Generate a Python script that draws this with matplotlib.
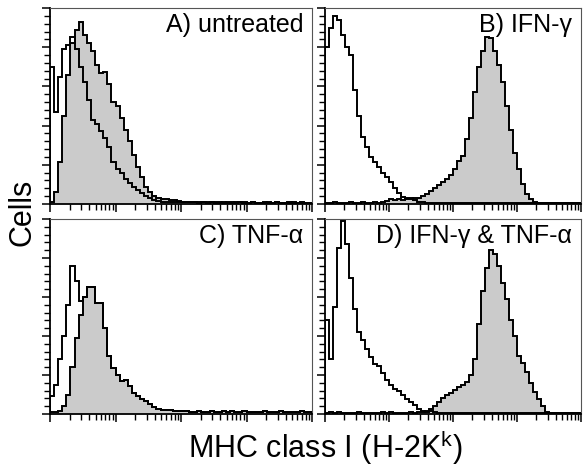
import numpy as np
import matplotlib
matplotlib.use("Agg")
import matplotlib.pyplot as plt
from matplotlib.ticker import FixedLocator, MultipleLocator, NullFormatter

plt.rcParams['font.family'] = ['Liberation Sans', 'DejaVu Sans']
plt.rcParams['mathtext.fontset'] = 'custom'
plt.rcParams['mathtext.rm'] = 'Liberation Sans'

# 64 log-spaced channels over 4 decades, counts as % of panel height
bin_edges = np.logspace(0, 4, 65)

a_open = [70, 47, 65, 79, 81, 85, 79, 70, 62, 53, 43, 41, 37, 33.5, 29, 21.6,
          18, 15.6, 13, 10.5, 8.8, 7.1, 5.4, 4, 2.9, 2, 1.5, 1.2, 1, 1,
          0.8, 1, 0.8, 0.8, 1.2, 0.8, 0.6, 0.8, 0.6, 1, 0.6, 0.6, 0.8, 0.6,
          0.6, 0.8, 1, 0.6, 0.6, 0.8, 0.6, 0.6, 0.6, 0.8, 0.6, 1, 0.6, 0.6,
          0.6, 0.8, 0.6, 0.6, 0.6, 0.6]
a_fill = [1.2, 6, 21.6, 45, 66, 82, 89, 93, 86, 82, 78, 71, 67, 67.5, 61, 52,
          50, 44, 38, 32, 25, 19, 14, 8.8, 6.3, 4.3, 3.2, 2.7, 2.3, 2, 1.8,
          1.5, 1.2, 1, 1, 0.8, 1, 0.8, 0.8, 0.8, 1, 0.8, 0.6, 0.8, 0.8, 0.6,
          1, 0.8, 0.6, 0.8, 0.6, 0.6, 1, 0.6, 0.6, 0.8, 0.6, 0.6, 1, 0.6, 0.6,
          0.8, 0.6, 0.6]

b_open = [80, 90, 96, 94, 86, 80, 76, 58, 45, 34, 29, 24, 21.6, 19, 15.6, 14,
          11.4, 8.3, 5.4, 3.7, 2.9, 2.9, 2, 1.2, 0.8, 0.6, 0.5, 0.5, 0.6, 0.5,
          0.5, 0.5, 0.6, 0.5, 0.5, 0.5, 0.5, 0.6, 0.5, 0.5, 0.5, 0.5, 0.5,
          0.5, 0.5, 0.5, 0.5, 0.5, 0.5, 0.5, 0.5, 0.5, 0.5, 0.5, 0.5, 0.5,
          0.5, 0.5, 0.5, 0.5, 0.5, 0.5, 0.5, 0.5]
b_fill = [0.6, 0.6, 0.8, 0.6, 0.6, 0.6, 0.8, 0.6, 0.6, 1, 0.6, 0.6, 0.8, 0.6,
          1.2, 1.5, 2.5, 2, 2.5, 2, 2.5, 2.8, 3, 3, 4, 5, 6.5, 8, 9.5, 11, 13,
          15, 18, 22, 24.5, 33, 44, 57, 70, 78, 85, 84.5, 78, 71, 62, 50, 38,
          26, 18, 10, 5, 2.5, 1, 0.5, 0.5, 0.5, 0.5, 0.5, 0.5, 0.5, 0.5, 0.5,
          0.5, 0.5]

c_open = [9, 15, 28, 40, 56, 76, 68, 58, 60, 65, 65, 57, 57, 44, 30, 23.5, 20,
          17, 17.5, 14.5, 11, 9, 7.8, 6.5, 5, 3.5, 2.7, 2.3, 2, 1.8, 1.6, 1.5,
          1.5, 1.3, 1.2, 1.2, 1.5, 1.2, 1, 1.5, 1.2, 1.2, 1.5, 1.2, 1.5, 1.2,
          1.2, 1.5, 1.2, 1.2, 1, 1.2, 1.5, 1.2, 1, 1.2, 1.5, 1.2, 1, 1.2, 1.2,
          1.5, 1.2, 1.2]
c_fill = [1, 1, 1.5, 4, 9.7, 24, 39, 51, 60, 65, 65, 57, 57, 44, 30, 23.5, 20,
          17, 17.5, 14.5, 11, 9, 7.8, 6.5, 5, 3.5, 2.7, 2.3, 2, 1.8, 1.6, 1.5,
          1.5, 1.3, 1.2, 1.2, 1.5, 1.2, 1, 1.5, 1.2, 1.2, 1.5, 1.2, 1.5, 1.2,
          1.2, 1.5, 1.2, 1.2, 1, 1.2, 1.5, 1.2, 1, 1.2, 1.5, 1.2, 1, 1.2, 1.2,
          1.5, 1.2, 1.2]

d_open = [48, 28, 55, 85, 99, 87, 70, 54, 42, 38, 33.5, 29, 25.5, 24.5, 21,
          17.5, 15, 13, 12, 9.5, 7.5, 6, 4.8, 2.5, 1.5, 1.2, 1.5, 1, 0.5, 0.6,
          0.5, 0.5, 0.5, 0.6, 0.5, 0.5, 0.5, 0.5, 0.5, 0.5, 0.5, 0.5, 0.5,
          0.5, 0.5, 0.5, 0.5, 0.5, 0.5, 0.5, 0.5, 0.5, 0.5, 0.5, 0.5, 0.5,
          0.5, 0.5, 0.5, 0.5, 0.5, 0.5, 0.5, 0.5]
d_fill = [0.6, 0.8, 0.6, 1, 0.6, 0.6, 0.6, 0.6, 0.8, 0.6, 0.6, 0.6, 0.6, 0.6,
          0.8, 0.6, 1, 0.6, 0.6, 0.6, 0.6, 0.8, 0.6, 1, 1, 1.5, 2.5, 4, 6, 8,
          9.7, 11, 12.5, 14, 15, 16.5, 20, 28, 46, 63, 75, 84, 82, 76, 67, 59,
          48, 40, 30, 26, 21.5, 16, 11.5, 7.5, 4, 1.2, 0.4, 0.4, 0.4, 0.4, 0.4,
          0.4, 0.4, 0.4]

panel_titles = ['A) untreated', 'B) IFN-γ', 'C) TNF-α', 'D) IFN-γ & TNF-α']
panel_data = [(a_open, a_fill), (b_open, b_fill), (c_open, c_fill), (d_open, d_fill)]

decades = [1, 10, 100, 1000, 10000]
minor_x = [m * d for d in decades[:-1] for m in range(2, 10)]

W, H = 583, 466
# axes boxes in pixels: left, top, right, bottom
boxes = [(50, 8, 312, 204), (325, 8, 581, 204),
         (50, 219, 312, 414), (325, 219, 581, 414)]

fig = plt.figure(figsize=(W / 100, H / 100), dpi=100)

for (l, t, r, b), title, (opn, fil) in zip(boxes, panel_titles, panel_data):
    ax = fig.add_axes([l / W, 1 - b / H, (r - l) / W, (b - t) / H])
    ax.stairs(fil, bin_edges, fill=True, facecolor='#cbcbcb',
              edgecolor='black', linewidth=1.4, zorder=2)
    ax.stairs(opn, bin_edges, color='black', linewidth=1.4, zorder=3)
    ax.set_xscale('log')
    ax.set_xlim(1, 1e4)
    ax.set_ylim(0, 100)
    ax.xaxis.set_major_locator(FixedLocator(decades))
    ax.xaxis.set_minor_locator(FixedLocator(minor_x))
    ax.xaxis.set_minor_formatter(NullFormatter())
    ax.yaxis.set_major_locator(MultipleLocator(20))
    ax.yaxis.set_minor_locator(MultipleLocator(4))
    ax.tick_params(which='major', direction='out', length=6, width=1.1,
                   labelbottom=False, labelleft=False)
    ax.tick_params(which='minor', direction='out', length=4, width=1.0)
    for s in ['left', 'bottom']:
        ax.spines[s].set_linewidth(1.3)
    for s in ['top', 'right']:
        ax.spines[s].set_linewidth(0.8)
        ax.spines[s].set_color('#555555')
    ax.text(1 - 9 / (r - l), 0.975, title, transform=ax.transAxes,
            ha='right', va='top', fontsize=18)

fig.text(22 / W, 1 - 212 / H, 'Cells', rotation=90, fontsize=22,
         ha='center', va='center')
fig.text(325 / W, 8 / H, r'MHC class I (H-2K$^{\mathregular{k}}$)',
         fontsize=22, ha='center', va='baseline')

fig.savefig('out.png', dpi=100)
